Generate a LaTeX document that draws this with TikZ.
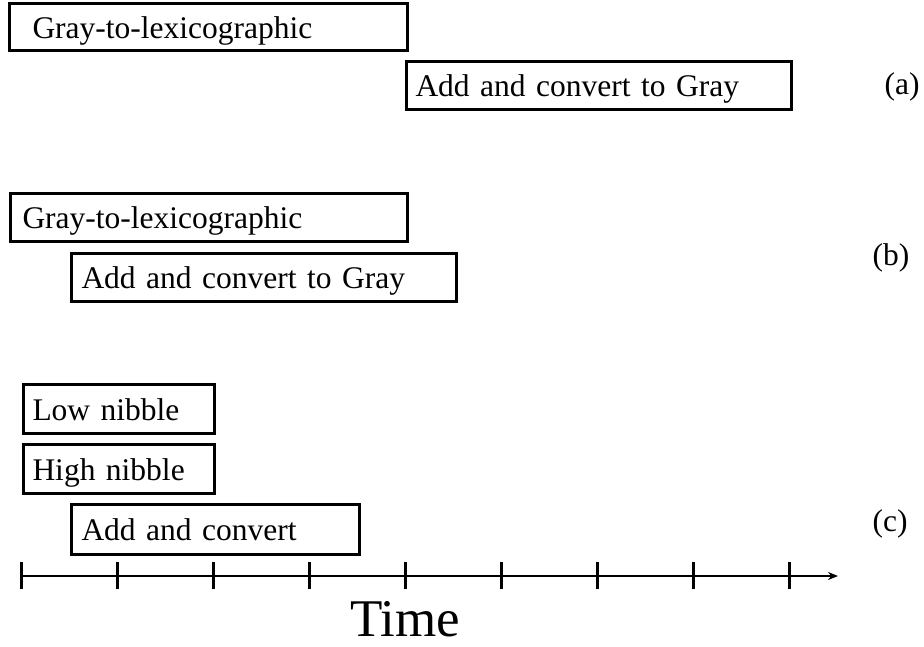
\documentclass[tikz,border=0pt]{standalone}
\usepackage{fontspec}
\setmainfont{Liberation Serif}
\usetikzlibrary{arrows.meta}
\tikzset{
  phase/.style={draw, line width=3pt, anchor=north west, inner ysep=0pt, align=left,
    font=\fontsize{31.5}{36}\selectfont, text height=24pt, text depth=2pt},
  lbl/.style={anchor=base, font=\fontsize{31.5}{36}\selectfont, inner sep=0pt},
  tick/.style={line width=3pt},
  axis/.style={line width=2pt, -{Stealth[length=10pt,width=8pt]}}
}
\begin{document}
\begin{tikzpicture}[x=1pt,y=-1pt]
\useasboundingbox (0,0) rectangle (924,646);
% (a)
\node[phase, minimum width=398pt, minimum height=47pt, text width=352pt, inner xsep=23pt] (ga) at (8,2) {Gray-to-lexicographic};
\node[phase, minimum width=385pt, minimum height=48pt, text width=367pt, inner xsep=9pt] (aa) at (405,60) {Add and convert to Gray};
\node[lbl] (la) at (902,94) {(a)};
% (b)
\node[phase, minimum width=397pt, minimum height=48pt, text width=373pt, inner xsep=12pt] (gb) at (9,192) {Gray-to-lexicographic};
\node[phase, minimum width=385pt, minimum height=48pt, text width=365pt, inner xsep=10pt] (ab) at (70,252) {Add and convert to Gray};
\node[lbl] (lb) at (891,265) {(b)};
% (c)
\node[phase, minimum width=191pt, minimum height=49pt, text width=173pt, inner xsep=9pt] (lo) at (22,383) {Low nibble};
\node[phase, minimum width=191pt, minimum height=49pt, text width=173pt, inner xsep=9pt] (hi) at (22,443) {High nibble};
\node[phase, minimum width=288pt, minimum height=50pt, text width=268pt, inner xsep=10pt] (ac) at (70,503) {Add and convert};
\node[lbl] (lc) at (890,531) {(c)};
% time axis
\foreach \i in {0,...,8} {
  \coordinate (t\i) at ({21+96*\i},576);
  \coordinate (tt\i) at ({21+96*\i},562);
  \coordinate (tb\i) at ({21+96*\i},589);
  \draw[tick] (tt\i) -- (tb\i);
}
\coordinate (aend) at (838,576);
\draw[axis] (t0) -- (aend);
\node[anchor=base, inner sep=0pt, font=\fontsize{53}{60}\selectfont] (time) at (405,636) {Time};
\end{tikzpicture}
\end{document}
